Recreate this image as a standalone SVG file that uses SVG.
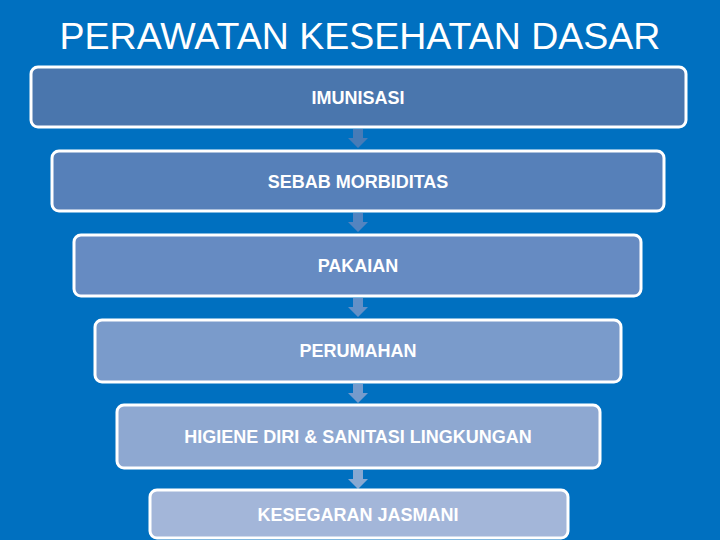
<svg xmlns="http://www.w3.org/2000/svg" width="720" height="540" viewBox="0 0 720 540">
<style>
.box{stroke:#ffffff;stroke-width:3}
.lbl{font-family:"Liberation Sans",Arial,sans-serif;font-weight:bold;font-size:18px;fill:#ffffff;text-anchor:middle}
.title{font-family:"Liberation Sans",Arial,sans-serif;font-size:37.5px;fill:#ffffff;text-anchor:middle}
.arr{opacity:0.9}
</style>
<defs>
<path id="arrow" d="M-5,0 H5 V9 H10 L0,19 L-10,9 H-5 Z"/>
</defs>
<rect width="720" height="540" fill="#0070c0"/>
<text class="title" x="360" y="49">PERAWATAN KESEHATAN DASAR</text>
<g id="connectors">
<use href="#arrow" x="358" y="129" fill="#4f7cb6" class="arr"/>
<use href="#arrow" x="358" y="213" fill="#5c86c0" class="arr"/>
<use href="#arrow" x="358" y="298" fill="#6e93c8" class="arr"/>
<use href="#arrow" x="358" y="384" fill="#82a0cd" class="arr"/>
<use href="#arrow" x="358" y="470" fill="#96aed4" class="arr"/>
</g>
<g id="n1"><rect class="box" x="31" y="67" width="655" height="60" rx="7" fill="#4a76ad"/><text class="lbl" x="358" y="104">IMUNISASI</text></g>
<g id="n2"><rect class="box" x="52" y="151" width="612" height="60" rx="7" fill="#5680b9"/><text class="lbl" x="358" y="188">SEBAB MORBIDITAS</text></g>
<g id="n3"><rect class="box" x="74" y="235" width="567" height="61" rx="7" fill="#668bc2"/><text class="lbl" x="358" y="272">PAKAIAN</text></g>
<g id="n4"><rect class="box" x="95" y="320" width="526" height="62" rx="7" fill="#7a9bcb"/><text class="lbl" x="358" y="357">PERUMAHAN</text></g>
<g id="n5"><rect class="box" x="117" y="405" width="483" height="63" rx="7" fill="#8ea8d1"/><text class="lbl" x="358" y="443">HIGIENE DIRI &amp; SANITASI LINGKUNGAN</text></g>
<g id="n6"><rect class="box" x="150" y="490" width="418" height="48" rx="7" fill="#a3b6d9"/><text class="lbl" x="358" y="521">KESEGARAN JASMANI</text></g>
</svg>
